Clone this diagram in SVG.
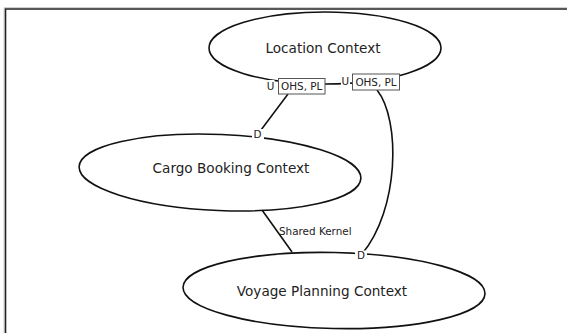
<svg xmlns="http://www.w3.org/2000/svg" width="567" height="333" viewBox="0 0 567 333">
<style>
.ell{fill:none;stroke:#111;stroke-width:1.6}
.edge{fill:none;stroke:#111;stroke-width:1.6}
.title{font-family:"DejaVu Sans",sans-serif;font-size:13.6px;fill:#222;text-anchor:middle}
.lbl{font-family:"DejaVu Sans",sans-serif;font-size:10.4px;fill:#222;text-anchor:middle}
.bg{fill:#fff;stroke:none}
.box{fill:#fff;stroke:#555;stroke-width:1}
</style>
<rect width="567" height="333" fill="#fff"/>
<g id="frame">
<path d="M4 333 V7.5 H567" fill="none" stroke="#d0d0d0" stroke-width="1"/>
<path d="M5.5 333 V9 H567" fill="none" stroke="#222" stroke-width="1.6"/>
</g>
<g id="location-context">
<ellipse class="ell" cx="325" cy="48" rx="116" ry="36"/>
<text class="title" x="323" y="53">Location Context</text>
</g>
<g id="cargo-booking-context">
<ellipse class="ell" cx="220" cy="172.5" rx="141" ry="38" transform="rotate(2.4 220 172.5)"/>
<text class="title" x="231" y="173">Cargo Booking Context</text>
</g>
<g id="voyage-planning-context">
<ellipse class="ell" cx="334" cy="290.5" rx="151" ry="38" transform="rotate(1.2 334 290.5)"/>
<text class="title" x="322" y="296">Voyage Planning Context</text>
</g>
<g id="connectors">
<path class="edge" d="M288 94 L258 134"/>
<path class="edge" d="M377 90 C401 120 399 210 362 254"/>
<path class="edge" d="M262 210 L292 252"/>
</g>
<g id="labels">
<rect class="bg" x="265.5" y="80" width="9" height="12"/>
<text class="lbl" x="270.5" y="89.8">U</text>
<rect class="box" x="278.5" y="78.5" width="46.5" height="15.5"/>
<text class="lbl" x="301.7" y="90">OHS, PL</text>
<rect class="bg" x="341" y="75" width="9" height="12"/>
<text class="lbl" x="345.4" y="84.8">U</text>
<rect class="box" x="352.5" y="74" width="47" height="16"/>
<text class="lbl" x="376" y="85.8">OHS, PL</text>
<rect class="bg" x="252" y="129" width="12" height="10"/>
<text class="lbl" x="257.5" y="137.8">D</text>
<rect class="bg" x="355" y="250.5" width="12" height="10"/>
<text class="lbl" x="361" y="259.2">D</text>
<text class="lbl" x="279" y="234.8" style="text-anchor:start">Shared Kernel</text>
</g>
</svg>
